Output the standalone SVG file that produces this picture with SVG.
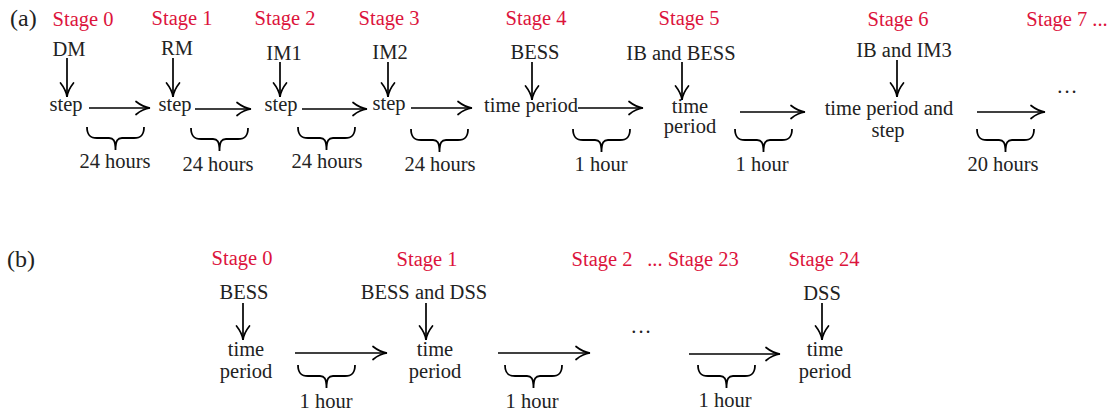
<svg xmlns="http://www.w3.org/2000/svg" width="1115" height="413" viewBox="0 0 1115 413">
<style>
text{font-family:"Liberation Serif","Times New Roman",serif;font-size:20.5px;fill:#222;text-anchor:middle}
.st{fill:#dc143c}
.pl{font-size:24px;text-anchor:start}
.ar{stroke:#000;stroke-width:1.7;fill:none;marker-end:url(#ah)}
.br{stroke:#000;stroke-width:1.8;fill:none}
</style>
<defs>
<marker id="ah" markerUnits="userSpaceOnUse" viewBox="-16 -9 18 18" markerWidth="18" markerHeight="18" refX="0" refY="0" orient="auto" overflow="visible">
<path d="M-14,-6.5 C-9,-2.5 -4,-0.5 0,0 C-4,0.5 -9,2.5 -14,6.5" stroke="#000" stroke-width="1.7" fill="none" stroke-linecap="round"/>
</marker>
<path id="brace" d="M0,0 C0,8 3,11 10,11 L22,11 C26,11 28.5,13 28.5,23 C28.5,13 31,11 35,11 L47,11 C54,11 57,8 57,0"/>
</defs>

<text class="pl" x="10" y="26">(a)</text>
<text class="pl" x="7" y="267">(b)</text>

<g id="a-stage0"><text class="st" x="83" y="26">Stage 0</text><text x="69" y="56">DM</text><text x="66" y="111">step</text></g>
<g id="a-stage1"><text class="st" x="182" y="25">Stage 1</text><text x="177" y="55">RM</text><text x="175" y="111">step</text></g>
<g id="a-stage2"><text class="st" x="285" y="25">Stage 2</text><text x="284" y="60">IM1</text><text x="281" y="111">step</text></g>
<g id="a-stage3"><text class="st" x="389" y="25">Stage 3</text><text x="390" y="59">IM2</text><text x="389" y="110">step</text></g>
<g id="a-stage4"><text class="st" x="536" y="25">Stage 4</text><text x="535" y="59">BESS</text><text x="531" y="112">time period</text></g>
<g id="a-stage5"><text class="st" x="689" y="25">Stage 5</text><text x="681" y="60">IB and BESS</text><text x="690" y="113">time</text><text x="690" y="133">period</text></g>
<g id="a-stage6"><text class="st" x="898" y="26">Stage 6</text><text x="904" y="57">IB and IM3</text><text x="889" y="115">time period and</text><text x="888" y="137">step</text></g>
<g id="a-stage7"><text class="st" x="1067" y="26">Stage 7 ...</text><text x="1068" y="93" letter-spacing="2">...</text></g>

<g id="b-stage0"><text class="st" x="242" y="265">Stage 0</text><text x="244" y="299">BESS</text><text x="246" y="356">time</text><text x="246" y="378">period</text></g>
<g id="b-stage1"><text class="st" x="427" y="266">Stage 1</text><text x="424" y="299">BESS and DSS</text><text x="435" y="356">time</text><text x="435" y="378">period</text></g>
<g id="b-stage2-23"><text class="st" x="602" y="266">Stage 2</text><text class="st" x="693" y="266">... Stage 23</text><text x="642" y="333" letter-spacing="2">...</text></g>
<g id="b-stage24"><text class="st" x="824" y="266">Stage 24</text><text x="822" y="300">DSS</text><text x="825" y="356">time</text><text x="825" y="378">period</text></g>

<g id="connectors">
<path class="ar" d="M67,58V97"/>
<path class="ar" d="M173,58V97"/>
<path class="ar" d="M280,62V97"/>
<path class="ar" d="M388,62V97"/>
<path class="ar" d="M532,62V100"/>
<path class="ar" d="M682,62V100"/>
<path class="ar" d="M897,60V97"/>
<path class="ar" d="M89,108H150"/>
<path class="ar" d="M195,109H251"/>
<path class="ar" d="M302,109H367"/>
<path class="ar" d="M411,108H472"/>
<path class="ar" d="M578,108H643"/>
<path class="ar" d="M740,112H805"/>
<path class="ar" d="M977,112H1045"/>
<path class="ar" d="M243,303V340"/>
<path class="ar" d="M426,303V340"/>
<path class="ar" d="M822,303V340"/>
<path class="ar" d="M295,353H387"/>
<path class="ar" d="M498,353H590"/>
<path class="ar" d="M689,354H780"/>
</g>

<g id="durations">
<g class="br">
<use href="#brace" x="87" y="127"/>
<use href="#brace" x="191" y="128"/>
<use href="#brace" x="298" y="127"/>
<use href="#brace" x="411" y="129"/>
<use href="#brace" x="573" y="129"/>
<use href="#brace" x="735" y="129"/>
<use href="#brace" x="977" y="129"/>
<use href="#brace" x="298" y="365"/>
<use href="#brace" x="505" y="365"/>
<use href="#brace" x="698" y="365"/>
</g>
<text x="115" y="168">24 hours</text>
<text x="218" y="171">24 hours</text>
<text x="327" y="168">24 hours</text>
<text x="440" y="171">24 hours</text>
<text x="601" y="171">1 hour</text>
<text x="762" y="171">1 hour</text>
<text x="1003" y="171">20 hours</text>
<text x="326" y="408">1 hour</text>
<text x="532" y="408">1 hour</text>
<text x="725" y="407">1 hour</text>
</g>
</svg>
